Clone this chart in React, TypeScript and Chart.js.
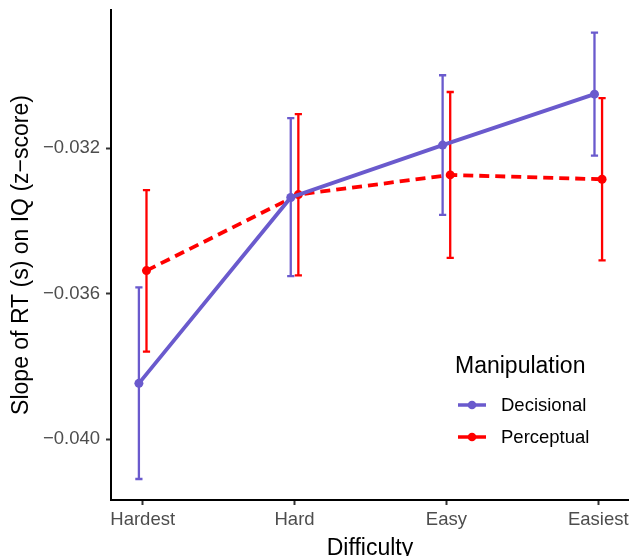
import React, { useEffect, useRef } from "react";
import { Chart, registerables } from "chart.js";

Chart.register(...registerables);

const categories = ["Hardest", "Hard", "Easy", "Easiest"];
const seriesNames = ["Decisional", "Perceptual"];
const decisional = [-0.03847, -0.03336, -0.03192, -0.03052];
const decisionalLow = [-0.0411, -0.03552, -0.03384, -0.03221];
const decisionalHigh = [-0.03583, -0.03118, -0.03, -0.02883];
const perceptual = [-0.03537, -0.03328, -0.03274, -0.03286];
const perceptualLow = [-0.0376, -0.0355, -0.03502, -0.03509];
const perceptualHigh = [-0.03316, -0.03107, -0.03046, -0.03063];
const yTicks = [-0.04, -0.036, -0.032];

const PURPLE = "#6A5ACD";
const RED = "#FF0000";
const DODGE = 0.025;
const FONT = "'Liberation Sans', Arial, sans-serif";

const fmt = (v: number) => (v < 0 ? "\u2212" : "") + Math.abs(v).toFixed(3);

export default function App() {
  const ref = useRef<HTMLCanvasElement | null>(null);
  useEffect(() => {
    if (!ref.current) return;
    const lows = [decisionalLow, perceptualLow];
    const highs = [decisionalHigh, perceptualHigh];
    const colors = [PURPLE, RED];

    const errorBars = {
      id: "errorBars",
      beforeDatasetsDraw(chart: any) {
        const { ctx, scales } = chart;
        const xs = scales.x;
        const ys = scales.y;
        ctx.save();
        [0, 1].forEach((s) => {
          const off = s === 0 ? -DODGE : DODGE;
          ctx.strokeStyle = colors[s];
          ctx.lineWidth = 2.3;
          categories.forEach((_, i) => {
            const x = xs.getPixelForValue(i + off);
            const y1 = ys.getPixelForValue(lows[s][i]);
            const y2 = ys.getPixelForValue(highs[s][i]);
            ctx.beginPath();
            ctx.moveTo(x, y1);
            ctx.lineTo(x, y2);
            ctx.moveTo(x - 3.6, y1);
            ctx.lineTo(x + 3.6, y1);
            ctx.moveTo(x - 3.6, y2);
            ctx.lineTo(x + 3.6, y2);
            ctx.stroke();
          });
        });
        ctx.restore();
      },
    };

    const legendPlugin = {
      id: "customLegend",
      afterDraw(chart: any) {
        const { ctx } = chart;
        ctx.save();
        ctx.fillStyle = "#000";
        ctx.textBaseline = "middle";
        ctx.textAlign = "left";
        ctx.font = `23px ${FONT}`;
        ctx.fillText("Manipulation", 455, 367);
        ctx.font = `18.5px ${FONT}`;
        seriesNames.forEach((name, k) => {
          const y = 405 + k * 32;
          ctx.strokeStyle = colors[k];
          ctx.fillStyle = colors[k];
          ctx.lineWidth = 3.5;
          ctx.beginPath();
          ctx.moveTo(458, y);
          ctx.lineTo(486, y);
          ctx.stroke();
          ctx.beginPath();
          ctx.arc(472, y, 4.3, 0, Math.PI * 2);
          ctx.fill();
          ctx.fillStyle = "#000";
          ctx.fillText(name, 501, y + 1);
        });
        ctx.restore();
      },
    };

    const chart = new Chart(ref.current, {
      type: "scatter",
      data: {
        datasets: [
          {
            label: seriesNames[0],
            data: decisional.map((v, i) => ({ x: i - DODGE, y: v })),
            showLine: true,
            borderColor: PURPLE,
            backgroundColor: PURPLE,
            borderWidth: 3.8,
            pointRadius: 4.5,
            pointBorderWidth: 0,
            pointHoverRadius: 4.5,
          },
          {
            label: seriesNames[1],
            data: perceptual.map((v, i) => ({ x: i + DODGE, y: v })),
            showLine: true,
            borderColor: RED,
            backgroundColor: RED,
            borderWidth: 3.8,
            borderDash: [10, 6],
            pointRadius: 4.5,
            pointBorderWidth: 0,
            pointHoverRadius: 4.5,
          },
        ],
      },
      options: {
        animation: false,
        responsive: false,
        events: [],
        layout: { padding: { top: 10, left: 0, right: 0, bottom: 0 }, autoPadding: false },
        plugins: {
          legend: { display: false },
          tooltip: { enabled: false },
        },
        scales: {
          x: {
            type: "linear",
            min: -0.2087,
            max: 3.2023,
            afterFit(scale: any) {
              scale.height = 56;
              scale.paddingLeft = 0;
              scale.paddingRight = 0;
            },
            afterBuildTicks(scale: any) {
              scale.ticks = categories.map((_, i) => ({ value: i }));
            },
            grid: {
              display: true,
              drawOnChartArea: false,
              drawTicks: true,
              tickLength: 5,
              tickWidth: 2,
              tickColor: "#333333",
            },
            border: { display: true, color: "#000", width: 2 },
            ticks: {
              padding: 4,
              color: "#4D4D4D",
              font: { family: FONT, size: 18.5 },
              callback: (v: any) => categories[Math.round(Number(v))] ?? "",
              maxRotation: 0,
              autoSkip: false,
            },
            title: {
              display: true,
              text: "Difficulty",
              color: "#000",
              font: { family: FONT, size: 23, lineHeight: 1 },
              padding: { top: 0, bottom: -4 },
            },
          },
          y: {
            type: "linear",
            min: -0.041677,
            max: -0.028206,
            afterFit(scale: any) {
              scale.width = 111;
              scale.paddingTop = 0;
              scale.paddingBottom = 0;
            },
            afterBuildTicks(scale: any) {
              scale.ticks = yTicks.map((v) => ({ value: v }));
            },
            grid: {
              display: true,
              drawOnChartArea: false,
              drawTicks: true,
              tickLength: 5,
              tickWidth: 2,
              tickColor: "#333333",
            },
            border: { display: true, color: "#000", width: 2 },
            ticks: {
              padding: 6,
              color: "#4D4D4D",
              font: { family: FONT, size: 18.5 },
              callback: (v: any) => fmt(Number(v)),
            },
            title: {
              display: true,
              text: "Slope of RT (s) on IQ (z\u2212score)",
              color: "#000",
              font: { family: FONT, size: 23, lineHeight: 1 },
              padding: { top: 10, bottom: 0 },
            },
          },
        },
      },
      plugins: [errorBars, legendPlugin],
    } as any);
    return () => chart.destroy();
  }, []);

  return (
    <div style={{ position: "absolute", left: 0, top: 0, width: 629, height: 556, background: "#fff" }}>
      <canvas ref={ref} width={629} height={556} style={{ display: "block" }} />
    </div>
  );
}
